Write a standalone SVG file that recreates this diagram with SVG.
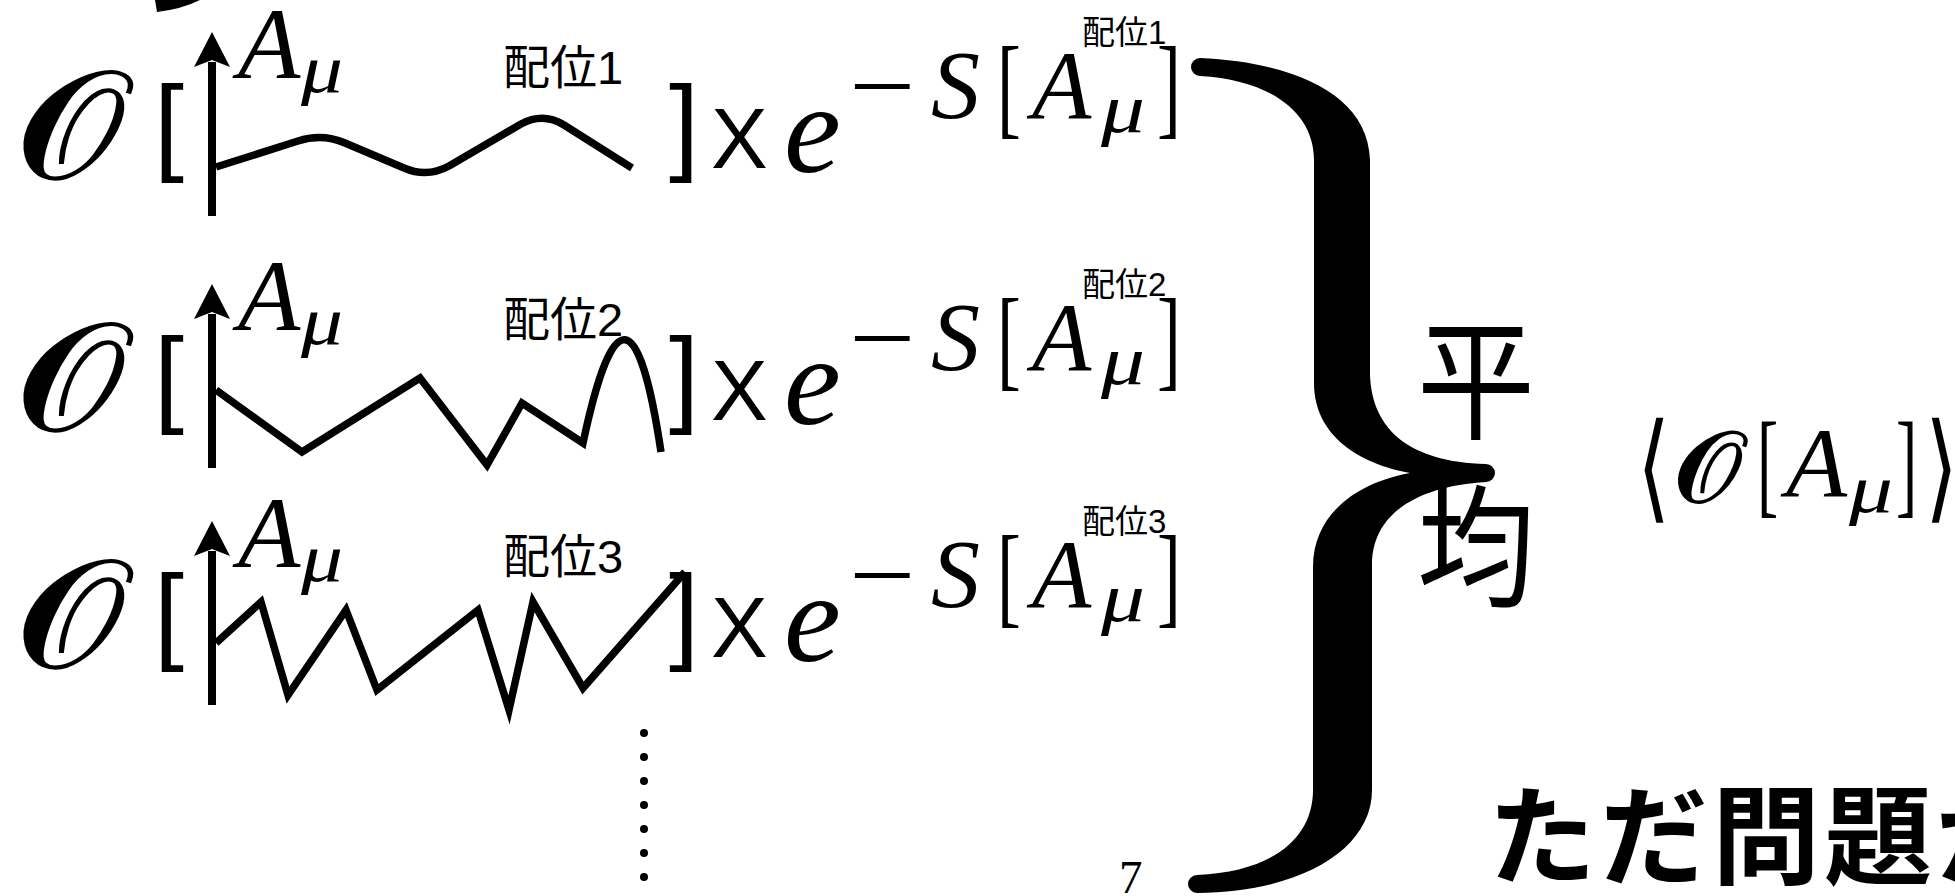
<svg xmlns="http://www.w3.org/2000/svg" width="1955" height="896" viewBox="0 0 1955 896">
  <style>
    .cal { font-family: "DejaVu Serif", "DejaVu Sans", "Liberation Serif", serif; font-style: normal; stroke: #000; stroke-width: 2; }
    .mi { font-family: "Liberation Serif", "DejaVu Serif", serif; font-style: italic; }
    .rm { font-family: "Liberation Serif", "DejaVu Serif", serif; }
    .ang { font-family: "DejaVu Sans", "DejaVu Serif", serif; }
    .sans { font-family: "Liberation Sans", sans-serif; }
    .jp { font-family: "Liberation Sans", "Noto Sans CJK JP", sans-serif; }
    .jpb { font-family: "Noto Sans CJK JP", sans-serif; font-weight: bold; }
    .wave { fill: none; stroke: #000; stroke-width: 7.5; }
    .axis { stroke: #000; stroke-width: 8; }
  </style>
  <defs>
    <!-- vertical field axis with notched arrowhead -->
    <g id="axisArrow">
      <line class="axis" x1="212" y1="62" x2="212" y2="216"/>
      <polygon points="212,32 230,67 212,60 194,67" fill="#000"/>
    </g>
  </defs>
  <rect width="1955" height="896" fill="#fff"/>

  <!-- fragment of a glyph cut off at the top edge -->
  <path d="M155,0 L200,0 Q182,9 157,12 Z" fill="#000"/>

  <!-- configuration 1 -->
  <g id="config1">
    <text class="cal" transform="translate(18,178) skewX(5) scale(1.17,1)" font-size="152">𝒪</text>
    <text class="sans" x="154" y="161" font-size="108">[</text>
    <use href="#axisArrow"/>
    <text class="mi" x="238" y="78" font-size="102">A</text>
    <text class="mi" x="301" y="92" font-size="68" textLength="42" lengthAdjust="spacingAndGlyphs">μ</text>
    <text class="jp" x="503" y="84" font-size="47">配位1</text>
    <path class="wave" stroke-linejoin="round" d="M216,167 L298,141 Q322,133 345,143 L404,168 Q427,178 449,166 L521,124 Q543,112 564,125 L632,168"/>
    <text class="sans" x="669" y="161" font-size="108">]</text>
    <text class="sans" x="711" y="168" font-size="85">X</text>
    <text class="mi" x="784" y="172" font-size="128">e</text>
    <text class="rm" transform="translate(849,119) scale(1.2,1)" font-size="98">−</text>
    <text class="mi" x="931" y="118" font-size="98">S</text>
    <text class="rm" transform="translate(997,124) scale(0.64,1)" font-size="112">[</text>
    <text class="mi" x="1032" y="118" font-size="97">A</text>
    <text class="mi" x="1101" y="132" font-size="70" textLength="44" lengthAdjust="spacingAndGlyphs">μ</text>
    <text class="rm" transform="translate(1157,124) scale(0.64,1)" font-size="112">]</text>
    <text class="jp" x="1082" y="44" font-size="33">配位1</text>
  </g>

  <!-- configuration 2 -->
  <g id="config2" transform="translate(0,252)">
    <text class="cal" transform="translate(18,178) skewX(5) scale(1.17,1)" font-size="152">𝒪</text>
    <text class="sans" x="154" y="161" font-size="108">[</text>
    <use href="#axisArrow"/>
    <text class="mi" x="238" y="78" font-size="102">A</text>
    <text class="mi" x="301" y="92" font-size="68" textLength="42" lengthAdjust="spacingAndGlyphs">μ</text>
    <text class="jp" x="503" y="84" font-size="47">配位2</text>
    <path class="wave" stroke-linejoin="miter" d="M216,138 L302,200 L420,126 L487,213 L522,151 L583,191 Q628,-20 661,200"/>
    <text class="sans" x="669" y="161" font-size="108">]</text>
    <text class="sans" x="711" y="168" font-size="85">X</text>
    <text class="mi" x="784" y="172" font-size="128">e</text>
    <text class="rm" transform="translate(849,119) scale(1.2,1)" font-size="98">−</text>
    <text class="mi" x="931" y="118" font-size="98">S</text>
    <text class="rm" transform="translate(997,124) scale(0.64,1)" font-size="112">[</text>
    <text class="mi" x="1032" y="118" font-size="97">A</text>
    <text class="mi" x="1101" y="132" font-size="70" textLength="44" lengthAdjust="spacingAndGlyphs">μ</text>
    <text class="rm" transform="translate(1157,124) scale(0.64,1)" font-size="112">]</text>
    <text class="jp" x="1082" y="44" font-size="33">配位2</text>
  </g>

  <!-- configuration 3 -->
  <g id="config3" transform="translate(0,489)">
    <text class="cal" transform="translate(18,178) skewX(5) scale(1.17,1)" font-size="152">𝒪</text>
    <text class="sans" x="154" y="161" font-size="108">[</text>
    <use href="#axisArrow"/>
    <text class="mi" x="238" y="78" font-size="102">A</text>
    <text class="mi" x="301" y="92" font-size="68" textLength="42" lengthAdjust="spacingAndGlyphs">μ</text>
    <text class="jp" x="503" y="84" font-size="47">配位3</text>
    <path class="wave" stroke-linejoin="miter" d="M216,154 L261,113 L288,206 L346,121 L377,201 L478,121 L509,221 L533,113 L583,199 L685,83"/>
    <text class="sans" x="669" y="161" font-size="108">]</text>
    <text class="sans" x="711" y="168" font-size="85">X</text>
    <text class="mi" x="784" y="172" font-size="128">e</text>
    <text class="rm" transform="translate(849,119) scale(1.2,1)" font-size="98">−</text>
    <text class="mi" x="931" y="118" font-size="98">S</text>
    <text class="rm" transform="translate(997,124) scale(0.64,1)" font-size="112">[</text>
    <text class="mi" x="1032" y="118" font-size="97">A</text>
    <text class="mi" x="1101" y="132" font-size="70" textLength="44" lengthAdjust="spacingAndGlyphs">μ</text>
    <text class="rm" transform="translate(1157,124) scale(0.64,1)" font-size="112">]</text>
    <text class="jp" x="1082" y="44" font-size="33">配位3</text>
  </g>

  <!-- vertical ellipsis for further configurations -->
  <g id="ellipsis" fill="#000">
    <circle cx="644" cy="733" r="4"/>
    <circle cx="644" cy="757" r="4"/>
    <circle cx="644" cy="781" r="4"/>
    <circle cx="644" cy="805" r="4"/>
    <circle cx="644" cy="829" r="4"/>
    <circle cx="644" cy="853" r="4"/>
    <circle cx="644" cy="877" r="4"/>
  </g>

  <!-- large right brace gathering all configurations -->
  <g id="brace">
    <path fill="#000" d="M1200,58 C1290,62 1368,92 1370,160 L1370,375 C1372,430 1410,462 1486,464 A9,9 0 0 1 1486,482 C1420,486 1372,512 1372,565 L1372,790 C1372,850 1300,892 1197,893 A9,9 0 0 1 1197,875 C1270,872 1313,840 1313,790 L1313,567 C1313,512 1360,482 1410,473 C1360,464 1314,436 1314,383 L1314,160 C1314,112 1270,80 1200,76 A9,9 0 0 1 1200,58 Z"/>
  </g>

  <!-- "average" label -->
  <g id="average">
    <text class="jp" transform="translate(1417,429) scale(1,1.12)" font-size="118">平</text>
    <text class="jp" transform="translate(1417,596) scale(1,1.12)" font-size="118">均</text>
  </g>

  <!-- expectation value -->
  <g id="expectation">
    <text class="ang" transform="translate(1637,507) scale(0.72,1)" font-size="118">⟨</text>
    <text class="cal" transform="translate(1675,502) skewX(5) scale(1.12,1)" font-size="100">𝒪</text>
    <text class="rm" transform="translate(1757,502) scale(0.55,1)" font-size="116">[</text>
    <text class="mi" x="1786" y="497" font-size="100">A</text>
    <text class="mi" x="1849" y="512" font-size="68" textLength="44" lengthAdjust="spacingAndGlyphs">μ</text>
    <text class="rm" transform="translate(1896,502) scale(0.55,1)" font-size="116">]</text>
    <text class="ang" transform="translate(1925,507) scale(0.72,1)" font-size="118">⟩</text>
  </g>

  <!-- page number -->
  <text id="pageno" class="rm" x="1119" y="893" font-size="47">7</text>

  <!-- caption continuing past the right edge -->
  <text id="caption" class="jpb" x="1488" y="876" font-size="108" letter-spacing="4">ただ問題が</text>
</svg>
